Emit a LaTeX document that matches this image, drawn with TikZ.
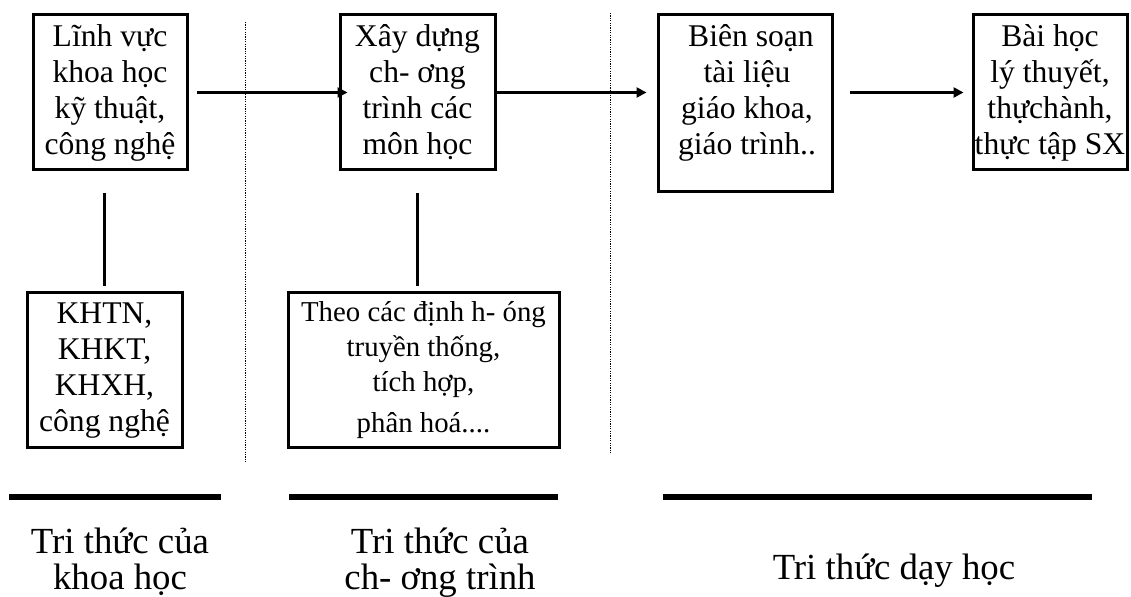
\documentclass[tikz,border=0pt]{standalone}
\usepackage{fontspec}
\setmainfont{Liberation Serif}
\usetikzlibrary{arrows.meta}
\begin{document}
\begin{tikzpicture}[x=0.5pt,y=-0.5pt,
  frame/.style={draw,line width=1.5pt,inner sep=0pt},
  box/.style={frame,align=center,font=\fontsize{15.8}{18}\selectfont},
  boxtext/.style={align=center,inner sep=0pt,font=\fontsize{15.8}{18}\selectfont},
  smallbox/.style={box,font=\fontsize{14.4}{17.5}\selectfont},
  arr/.style={line width=1.4pt,-{Triangle[length=5pt,width=5pt]}},
  link/.style={line width=1.4pt},
  sep/.style={line width=0.5pt,dash pattern=on 0.6pt off 0.6pt,black},
  bar/.style={line width=3pt},
  caption/.style={align=center,inner sep=0pt,font=\fontsize{18.4}{18}\selectfont}]
\useasboundingbox (0,0) rectangle (1131,597);
% boxes
\node[box,minimum width=77pt,minimum height=77.5pt] (B1) at (110,92.5)
  {Lĩnh vực\\khoa học\\kỹ thuật,\\công nghệ};
\node[box,minimum width=77.5pt,minimum height=77.5pt] (B2) at (417.5,92.5)
  {Xây dựng\\ch- ơng\\trình các\\môn học};
\node[frame,minimum width=87pt,minimum height=88.5pt] (B3) at (745,103.5) {};
\node[boxtext] (B3t) at (747,92.5)
  {\ Biên soạn\\tài liệu\\giáo khoa,\\giáo trình..};
\node[box,minimum width=77pt,minimum height=77.5pt] (B4) at (1050,92.5)
  {Bài học\\lý thuyết,\\thựchành,\\thực tập SX};
\node[box,minimum width=77.5pt,minimum height=77.5pt] (K) at (104.5,370.5)
  {KHTN,\\KHKT,\\KHXH,\\công nghệ};
\node[smallbox,minimum width=135.5pt,minimum height=77.5pt] (T) at (423.5,370.5)
  {Theo các định h- óng\\truyền thống,\\tích hợp,\\[3pt]phân hoá....};
% arrows
\draw[arr,shorten <=4pt,shorten >=-4.5pt] (B1.east) -- (B2.west);
\draw[arr,shorten >=5pt] (B2.east) -- (B2.east -| B3.west);
\draw[arr,shorten <=8pt,shorten >=4pt] (B4.west -| B3.east) -- (B4.west);
% vertical links
\draw[link,shorten <=11pt,shorten >=2.5pt] (K.north |- B1.south) -- (K.north);
\draw[link,shorten <=11pt,shorten >=2.5pt] (B2.south) -- (B2.south |- T.north);
% dotted separators
\draw[sep] (245,22) -- (245,463);
\draw[sep] (610,13) -- (610,453);
% bottom bars
\draw[bar] (9,497) -- (221,497);
\draw[bar] (289,497) -- (558,497);
\draw[bar] (663,497) -- (1092,497);
% captions
\node[caption,anchor=base] (C1) at (120,590) {Tri thức của\\khoa học};
\node[caption,anchor=base] (C2) at (440,590) {Tri thức của\\ch- ơng trình};
\node[caption,anchor=base] (C3) at (894,580) {Tri thức dạy học};
\end{tikzpicture}
\end{document}
